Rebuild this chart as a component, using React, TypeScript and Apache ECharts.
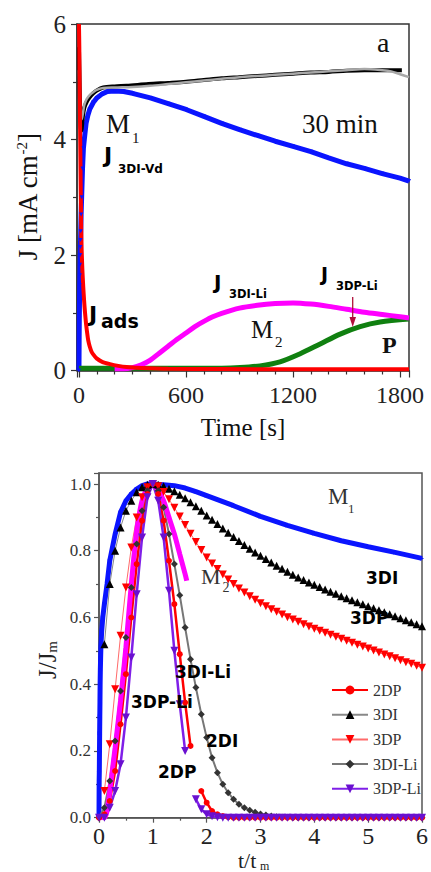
import React, { useEffect, useRef } from 'react';
import * as echarts from 'echarts';

// ---------- Panel a : J vs time ----------
const timeTicks = [0, 600, 1200, 1800];
const blackTop = [[0,5.6],[4,4.9],[8,4.4],[12,4.15],[16,4.2],[22,4.4],[30,4.55],[43,4.65],[60,4.73],[80,4.8],[100,4.85],[136,4.9],[200,4.92],[267,4.93],[389,4.96],[500,4.98],[600,5.0],[700,5.03],[800,5.06],[900,5.08],[1000,5.1],[1100,5.12],[1200,5.14],[1300,5.16],[1400,5.17],[1500,5.19],[1600,5.2],[1700,5.2],[1810,5.2]];
const grayTop = [[0,5.2],[5,4.6],[10,4.4],[15,4.35],[22,4.45],[30,4.6],[43,4.7],[60,4.77],[80,4.82],[100,4.86],[136,4.89],[200,4.9],[300,4.91],[400,4.93],[500,4.96],[600,4.99],[700,5.02],[800,5.05],[900,5.08],[1000,5.1],[1100,5.12],[1200,5.14],[1300,5.16],[1400,5.18],[1500,5.2],[1600,5.22],[1700,5.2],[1750,5.18],[1800,5.13],[1850,5.08]];
const blueTop = [[0,0],[1,0.52],[2,0.9],[3,1.19],[4,1.48],[5,1.65],[6,1.83],[7,2.0],[8,2.14],[9,2.26],[10,2.41],[12,2.7],[15,3.0],[20,3.5],[25,3.85],[30,4.0],[40,4.28],[50,4.42],[60,4.52],[80,4.64],[100,4.72],[130,4.79],[160,4.83],[200,4.84],[250,4.83],[300,4.8],[400,4.72],[500,4.62],[600,4.52],[700,4.4],[800,4.28],[900,4.17],[1000,4.07],[1100,3.97],[1200,3.88],[1300,3.79],[1400,3.68],[1500,3.58],[1600,3.5],[1700,3.41],[1800,3.33],[1850,3.28]];
const redTop = [[0,6.0],[2,5.6],[4,4.9],[6,4.3],[8,3.7],[10,3.1],[12,2.6],[15,2.1],[19,1.75],[24,1.45],[29,1.2],[34,1.0],[40,0.8],[46,0.65],[52,0.52],[60,0.42],[70,0.33],[80,0.28],[99,0.21],[130,0.15],[174,0.11],[220,0.08],[267,0.06],[350,0.045],[500,0.03],[800,0.025],[1200,0.02],[1850,0.02]];
const magentaTop = [[200,0.03],[250,0.03],[300,0.05],[350,0.1],[400,0.18],[450,0.3],[500,0.42],[550,0.54],[600,0.65],[650,0.76],[700,0.85],[750,0.93],[800,0.99],[900,1.08],[1000,1.13],[1100,1.16],[1200,1.17],[1300,1.15],[1400,1.11],[1500,1.06],[1600,1.01],[1700,0.97],[1800,0.93],[1850,0.91]];
const greenTop = [[0,0.04],[300,0.04],[600,0.04],[800,0.04],[903,0.05],[1015,0.08],[1127,0.15],[1240,0.29],[1352,0.46],[1464,0.63],[1576,0.76],[1688,0.84],[1850,0.89]];

// ---------- Panel b : J/Jm vs t/tm ----------
const ratioStep = 0.1;
const m1Bottom = [[0,0],[0.003,0.11],[0.006,0.138],[0.009,0.198],[0.012,0.253],[0.015,0.303],[0.018,0.348],[0.021,0.403],[0.025,0.443],[0.03,0.478],[0.035,0.512],[0.05,0.56],[0.07,0.6],[0.1,0.64],[0.15,0.7],[0.2,0.77],[0.3,0.85],[0.4,0.915],[0.5,0.95],[0.6,0.97],[0.7,0.985],[0.8,0.995],[0.9,1.0],[1.0,1.0],[1.2,0.998],[1.4,0.995],[1.6,0.988],[1.8,0.977],[2.0,0.965],[2.5,0.935],[3.0,0.903],[3.5,0.876],[4.0,0.852],[4.5,0.83],[5.0,0.812],[5.5,0.795],[6.0,0.777]];
const m2Bottom = [[0,0],[0.1,0.0],[0.15,0.02],[0.2,0.08],[0.3,0.21],[0.4,0.35],[0.5,0.51],[0.6,0.7],[0.7,0.86],[0.8,0.95],[0.9,0.99],[1.0,1.0],[1.1,0.98],[1.2,0.95],[1.3,0.9],[1.4,0.85],[1.5,0.79],[1.6,0.73],[1.63,0.71]];
// from t/tm = 0.1
const v3DI = [0.52,0.70,0.80,0.87,0.92,0.95,0.975,0.99,0.998,1.0,
  0.998,0.993,0.986,0.978,0.968,0.957,0.945,0.933,0.92,0.906,
  0.893,0.88,0.867,0.854,0.841,0.829,0.817,0.806,0.795,0.785,
  0.775,0.765,0.755,0.746,0.737,0.728,0.72,0.712,0.705,0.698,
  0.691,0.684,0.677,0.671,0.664,0.658,0.652,0.646,0.64,0.634,
  0.628,0.622,0.616,0.61,0.604,0.598,0.592,0.586,0.58,0.574];
const v3DP = [0.08,0.22,0.385,0.545,0.69,0.81,0.90,0.96,0.99,1.0,
  0.993,0.976,0.954,0.929,0.903,0.877,0.851,0.826,0.802,0.78,
  0.762,0.745,0.729,0.714,0.70,0.687,0.675,0.664,0.653,0.643,
  0.634,0.625,0.617,0.609,0.601,0.594,0.587,0.58,0.573,0.566,
  0.56,0.554,0.548,0.542,0.536,0.53,0.524,0.518,0.513,0.507,
  0.501,0.495,0.489,0.484,0.478,0.472,0.466,0.461,0.455,0.449];
// from t/tm = 0
const v3DILi = [0,0.03,0.11,0.23,0.38,0.54,0.69,0.82,0.92,0.98,1.0,
  0.98,0.93,0.85,0.76,0.667,0.57,0.475,0.39,0.31,0.24,
  0.18,0.135,0.10,0.075,0.055,0.04,0.03,0.022,0.016,0.011,
  0.008,0.005,0.003,0.002,0.001,0,0,0,0,0,
  0,0,0,0,0,0,0,0,0,0,
  0,0,0,0,0,0,0,0,0,0];
const v2DP = [0,0.01,0.05,0.14,0.28,0.43,0.60,0.76,0.89,0.97,1.0,
  0.97,0.89,0.77,0.64,0.49,0.345,0.215,null,0.08,0.045,
  0.02,0.01,0.005,0.002,0,0,0,0,0,0,
  0,0,0,0,0,0,0,0,0,0,
  0,0,0,0,0,0,0,0,0,0,
  0,0,0,0,0,0,0,0,0,0];
const v3DPLi = [0,0,0.03,0.08,0.16,0.30,0.48,0.67,0.84,0.96,1.0,
  0.95,0.84,0.68,0.50,0.34,0.20,null,0.055,0.025,0.01,
  0.004,0.001,0,0,0,0,0,0,0,0,
  0,0,0,0,0,0,0,0,0,0,
  0,0,0,0,0,0,0,0,0,0,
  0,0,0,0,0,0,0,0,0,0];
const legendNames = ['2DP', '3DI', '3DP', '3DI-Li', '3DP-Li'];

const SERIF = "'Liberation Serif', 'Times New Roman', serif";
const SANS = "'DejaVu Sans', Arial, sans-serif";

function pairs(values: (number | null)[], start: number) {
  return values.map((v, i) => [Math.round((start + i) * ratioStep * 100) / 100, v === null ? '-' : v]);
}

function txt(text: string, x: number, baseline: number, size: number, family = SERIF, weight = 'normal', fill = '#111') {
  return {
    type: 'text', x, y: baseline - 0.35 * size, z: 100, silent: true,
    style: { text, fontSize: size, fontFamily: family, fontWeight: weight, fill, align: 'left', verticalAlign: 'middle' },
  };
}

export default function App() {
  const ref = useRef<HTMLDivElement>(null);
  useEffect(() => {
    if (!ref.current) return;
    const chart = echarts.init(ref.current, null, { renderer: 'svg' });
    const axisColor = '#333';
    const tickStyle = { color: axisColor, width: 1.2 };
    const option: any = {
      animation: false,
      backgroundColor: '#ffffff',
      grid: [
        { left: 77, top: 24, width: 332, height: 346.5, show: true, borderColor: '#333', borderWidth: 1.5, backgroundColor: 'transparent' },
        { left: 99, top: 473, width: 328.7, height: 344.7, show: true, borderColor: '#555', borderWidth: 1.5, backgroundColor: 'transparent' },
      ],
      xAxis: [
        {
          type: 'value', gridIndex: 0, min: -11, max: 1850, minInterval: 600, maxInterval: 600,
          axisLine: { show: true, onZero: false, lineStyle: { color: axisColor, width: 1.5 } },
          axisTick: { show: true, length: 7, lineStyle: tickStyle },
          minorTick: { show: true, splitNumber: 6, length: 4, lineStyle: tickStyle },
          splitLine: { show: false },
          axisLabel: { fontFamily: SERIF, fontSize: 24, color: '#222', margin: 12,
            formatter: (v: number) => (timeTicks.indexOf(Math.round(v)) >= 0 && Math.abs(v - Math.round(v)) < 1e-6 ? String(Math.round(v)) : '') },
        },
        {
          type: 'value', gridIndex: 1, min: 0, max: 6, interval: 1,
          axisLine: { show: true, onZero: false, lineStyle: { color: '#555', width: 1.5 } },
          axisTick: { show: true, length: 5, lineStyle: { color: '#555', width: 1.2 } },
          minorTick: { show: true, splitNumber: 2, length: 3, lineStyle: { color: '#555', width: 1.2 } },
          splitLine: { show: false },
          axisLabel: { fontFamily: SERIF, fontSize: 24, color: '#222', margin: 6 },
        },
      ],
      yAxis: [
        {
          type: 'value', gridIndex: 0, min: 0, max: 6, interval: 2,
          axisLine: { show: true, onZero: false, lineStyle: { color: axisColor, width: 1.5 } },
          axisTick: { show: true, length: 6, lineStyle: tickStyle },
          minorTick: { show: true, splitNumber: 2, length: 4, lineStyle: tickStyle },
          splitLine: { show: false },
          axisLabel: { fontFamily: SERIF, fontSize: 25, color: '#222', margin: 11 },
        },
        {
          type: 'value', gridIndex: 1, min: 0, max: 1.033, interval: 0.2,
          axisLine: { show: true, onZero: false, lineStyle: { color: '#555', width: 1.5 } },
          axisTick: { show: true, length: 5, lineStyle: { color: '#555', width: 1.2 } },
          minorTick: { show: true, splitNumber: 2, length: 3, lineStyle: { color: '#555', width: 1.2 } },
          splitLine: { show: false },
          axisLabel: { fontFamily: SERIF, fontSize: 17, color: '#333', margin: 8,
            formatter: (v: number) => (Math.abs(v * 5 - Math.round(v * 5)) < 1e-6 ? v.toFixed(1) : '') },
        },
      ],
      legend: {
        data: legendNames, orient: 'vertical', left: 326, top: 677, itemWidth: 36, itemHeight: 11, itemGap: 8.7,
        selectedMode: false, textStyle: { fontFamily: SERIF, fontSize: 16, color: '#333' },
      },
      series: [
        // panel a
        { name: 'Jblue', type: 'line', xAxisIndex: 0, yAxisIndex: 0, data: blueTop, symbol: 'triangle', symbolRotate: 180, symbolSize: 4, showSymbol: true,
          lineStyle: { color: '#0a14ff', width: 5 }, itemStyle: { color: '#0a14ff' }, silent: true },
        { name: 'Jblack', type: 'line', xAxisIndex: 0, yAxisIndex: 0, data: blackTop, showSymbol: false, smooth: 0.3,
          lineStyle: { color: '#000', width: 4 }, itemStyle: { color: '#000' }, silent: true },
        { name: 'Jgray', type: 'line', xAxisIndex: 0, yAxisIndex: 0, data: grayTop, showSymbol: false, smooth: 0.3,
          lineStyle: { color: '#a8a8a8', width: 2.5 }, itemStyle: { color: '#a8a8a8' }, silent: true },
        { name: 'Jgreen', type: 'line', xAxisIndex: 0, yAxisIndex: 0, data: greenTop, showSymbol: false, smooth: 0.3,
          lineStyle: { color: '#108010', width: 5 }, itemStyle: { color: '#108010' }, silent: true },
        { name: 'Jmagenta', type: 'line', xAxisIndex: 0, yAxisIndex: 0, data: magentaTop, showSymbol: false, smooth: 0.3,
          lineStyle: { color: '#ff00ff', width: 5 }, itemStyle: { color: '#ff00ff' }, silent: true },
        { name: 'Jred', type: 'line', xAxisIndex: 0, yAxisIndex: 0, data: redTop, showSymbol: false, smooth: 0.2,
          lineStyle: { color: '#ff0000', width: 4 }, itemStyle: { color: '#ff0000' }, silent: true },
        // panel b
        { name: 'M1', type: 'line', xAxisIndex: 1, yAxisIndex: 1, data: m1Bottom, symbol: 'triangle', symbolRotate: -90, symbolSize: 4, showSymbol: true,
          lineStyle: { color: '#0a14ff', width: 5 }, itemStyle: { color: '#0a14ff' }, silent: true },
        { name: '3DI', type: 'line', xAxisIndex: 1, yAxisIndex: 1, data: pairs(v3DI, 1), symbol: 'triangle', symbolSize: 8,
          lineStyle: { color: '#888', width: 1 }, itemStyle: { color: '#000' }, silent: true },
        { name: '3DP', type: 'line', xAxisIndex: 1, yAxisIndex: 1, data: pairs(v3DP, 1), symbol: 'triangle', symbolRotate: 180, symbolSize: 8,
          lineStyle: { color: '#ff6a6a', width: 1 }, itemStyle: { color: '#ff0000' }, silent: true },
        { name: '3DI-Li', type: 'line', xAxisIndex: 1, yAxisIndex: 1, data: pairs(v3DILi, 0), symbol: 'diamond', symbolSize: 7,
          lineStyle: { color: '#777', width: 2 }, itemStyle: { color: '#333' }, silent: true },
        { name: '2DP', type: 'line', xAxisIndex: 1, yAxisIndex: 1, data: pairs(v2DP, 0), symbol: 'circle', symbolSize: 6,
          lineStyle: { color: '#ff0000', width: 2.5 }, itemStyle: { color: '#ff0000' }, silent: true },
        { name: '3DP-Li', type: 'line', xAxisIndex: 1, yAxisIndex: 1, data: pairs(v3DPLi, 0), symbol: 'triangle', symbolRotate: 180, symbolSize: 8,
          lineStyle: { color: '#7f1fe8', width: 2.5 }, itemStyle: { color: '#6a10d0' }, silent: true },
        { name: 'M2', type: 'line', xAxisIndex: 1, yAxisIndex: 1, data: m2Bottom, showSymbol: false, smooth: 0.2,
          lineStyle: { color: '#ff00ff', width: 5 }, itemStyle: { color: '#ff00ff' }, silent: true },
      ],
      graphic: [
        // panel a annotations
        txt('a', 377, 52, 28),
        txt('30 min', 302, 133, 27),
        txt('M', 106, 133, 27),
        txt('1', 132, 143, 15),
        txt('J', 104, 163, 22, SANS, 'bold', '#000'),
        txt('3DI-Vd', 118, 173, 12, SANS, 'bold', '#000'),
        txt('J', 89, 322, 22, SANS, 'bold', '#000'),
        txt('ads', 101, 328, 19, SANS, 'bold', '#000'),
        txt('J', 214, 289, 20, SANS, 'bold', '#000'),
        txt('3DI-Li', 229, 298, 11.5, SANS, 'bold', '#000'),
        txt('J', 321, 281, 19, SANS, 'bold', '#000'),
        txt('3DP-Li', 336, 290, 11.5, SANS, 'bold', '#000'),
        txt('M', 251, 338, 25),
        txt('2', 275, 347, 15),
        txt('P', 382, 353, 24, SERIF, 'bold'),
        { type: 'line', silent: true, z: 100, shape: { x1: 352.7, y1: 297, x2: 352.7, y2: 320 }, style: { stroke: '#b0103a', lineWidth: 1.3 } },
        { type: 'polygon', silent: true, z: 100, shape: { points: [[349.5, 317], [356, 317], [352.7, 327]] }, style: { fill: '#b0103a' } },
        {
          type: 'text', x: 28, y: 197, rotation: Math.PI / 2, z: 100, silent: true,
          style: {
            text: '{a|J [mA cm}{s|-2}{a|]}', align: 'center', verticalAlign: 'middle', fill: '#111',
            rich: { a: { fontSize: 27, fontFamily: SERIF, fill: '#111', verticalAlign: 'bottom' }, s: { fontSize: 15, fontFamily: SERIF, fill: '#111', verticalAlign: 'top' } },
          },
        },
        { type: 'text', x: 243, y: 436 - 0.35 * 25, z: 100, silent: true,
          style: { text: 'Time [s]', fontSize: 25, fontFamily: SERIF, fill: '#111', align: 'center', verticalAlign: 'middle' } },
        // panel b annotations
        txt('M', 328, 505, 23, SERIF, 'normal', '#333'),
        txt('1', 348, 513, 13, SERIF, 'normal', '#333'),
        txt('M', 201, 584, 22, SERIF, 'normal', '#333'),
        txt('2', 222.5, 592.5, 14, SERIF, 'normal', '#333'),
        txt('3DI', 366, 584, 17, SANS, 'bold', '#000'),
        txt('3DP', 350, 624, 17, SANS, 'bold', '#000'),
        txt('3DI-Li', 175, 678, 17, SANS, 'bold', '#000'),
        txt('3DP-Li', 131, 708, 17, SANS, 'bold', '#000'),
        txt('2DI', 206, 746.5, 17, SANS, 'bold', '#000'),
        txt('2DP', 158, 778, 17, SANS, 'bold', '#000'),
        {
          type: 'text', x: 47, y: 660, rotation: Math.PI / 2, z: 100, silent: true,
          style: {
            text: '{a|J/J}{s|m}', align: 'center', verticalAlign: 'middle', fill: '#222',
            rich: { a: { fontSize: 25, fontFamily: SERIF, fill: '#222', verticalAlign: 'top' }, s: { fontSize: 15, fontFamily: SERIF, fill: '#222', verticalAlign: 'bottom' } },
          },
        },
        txt('t/t', 238, 868, 22, SERIF, 'normal', '#222'),
        txt('m', 260, 870.5, 12, SERIF, 'normal', '#222'),
      ],
    };
    chart.setOption(option);
    return () => chart.dispose();
  }, []);
  return <div ref={ref} style={{ position: 'fixed', left: 0, top: 0, width: 431, height: 872, background: '#fff' }} />;
}
